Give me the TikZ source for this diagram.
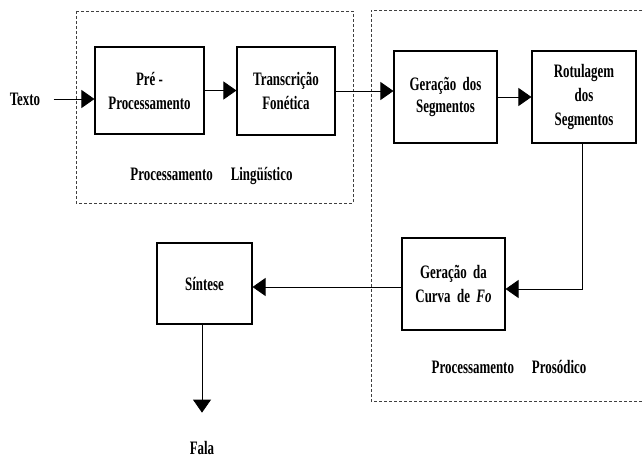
\documentclass[tikz,border=0pt]{standalone}
\usepackage{fontspec}
\setmainfont{Liberation Serif}[FakeStretch=0.68]
\usetikzlibrary{arrows.meta}

\tikzset{
  bloco/.style={draw, line width=1.1pt, align=center, font=\bfseries\fontsize{19}{24}\selectfont},
  rotulo/.style={font=\bfseries\fontsize{19}{22}\selectfont},
  seta/.style={line width=0.8pt, -{Triangle[length=13pt,width=18pt]}},
  grupo/.style={line width=0.8pt, black!75, dash pattern=on 3pt off 2pt}
}

\begin{document}
\begin{tikzpicture}[x=1pt,y=-1pt]
\useasboundingbox (0,0) rectangle (644,457);

\draw[grupo] (76,11) rectangle (353,203);
\draw[grupo] (647,10) -- (371,10) -- (371,401) -- (647,401);

\node[rotulo] (texto) at (25,99) {Texto};
\node[bloco, minimum width=109pt, minimum height=87pt] (pre) at (149.5,90.5) {Pré -\\Processamento};
\node[bloco, minimum width=98pt, minimum height=88pt] (trans) at (286,91) {Transcrição\\Fonética};
\node[bloco, minimum width=103pt, minimum height=92pt] (ger) at (445.5,97) {Geração\ \ dos\\[-2pt]Segmentos};
\node[bloco, minimum width=104pt, minimum height=92pt] (rot) at (584,97) {Rotulagem\\dos\\Segmentos};
\node[bloco, minimum width=103pt, minimum height=92pt] (curva) at (453.5,284) {Geração\ \ da\\Curva\ \ de\ \ \textit{Fo}};
\node[bloco, minimum width=95pt, minimum height=81pt] (sintese) at (204.5,283.5) {Síntese};
\node[rotulo, inner sep=1pt] (fala) at (202,447.5) {Fala};

\node[rotulo] (ling) at (211.5,176) {Processamento\hspace{18pt}Lingüístico};
\node[rotulo] (pros) at (509,367) {Processamento\hspace{18pt}Prosódico};

\draw[seta, shorten <=10pt] (texto) -- (texto -| pre.west);
\draw[seta] (pre.east) -- (pre.east -| trans.west);
\draw[seta] (trans.east) -- (trans.east -| ger.west);
\draw[seta] (ger.east) -- (rot.west);
\draw[seta] ([xshift=-2pt]rot.south) |- ([yshift=-5pt]curva.east);
\draw[seta] ([yshift=-3pt]curva.west) -- ([yshift=-3pt]curva.west -| sintese.east);
\draw[seta, shorten >=27pt] (sintese.south -| fala) -- (fala);
\end{tikzpicture}
\end{document}
